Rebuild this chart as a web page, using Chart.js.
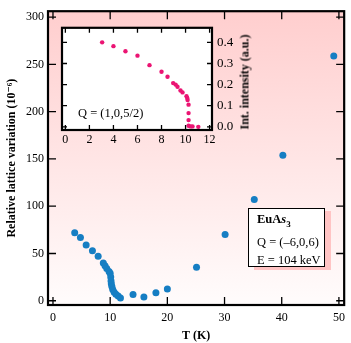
<!DOCTYPE html>
<html>
<head>
<meta charset="utf-8">
<script src="https://cdn.jsdelivr.net/npm/chart.js@4.4.1/dist/chart.umd.min.js"></script>
<style>
  body { margin: 0; background: #fff; }
  #wrap { position: relative; width: 351px; height: 343px; font-family: "Liberation Serif", "DejaVu Serif", serif; }
  #principal { position: absolute; left: 0; top: 0; }
  #inset { position: absolute; left: 55px; top: 15px; }
  .nota { position: absolute; font-size: 12.5px; color: #000; white-space: nowrap; }
  #caixa { left: 248px; top: 208px; width: 77px; height: 59px; border: 1.5px solid #000; background: #fff;
    box-shadow: 6px 3px 0 #ffc4c4; padding: 1px 0 0 8px; box-sizing: border-box; line-height: 18px; }
  #qinset { left: 78px; top: 105px; line-height: 16px; }
  #tituloInset { left: 245px; top: 82px; font-size: 12px; font-weight: bold; transform: translate(-50%, -50%) rotate(-90deg); }
</style>
</head>
<body>
<div id="wrap">
  <canvas id="principal" width="351" height="343"></canvas>
  <canvas id="inset" width="200" height="135"></canvas>
  <div class="nota" id="qinset">Q = (1,0,5/2)</div>
  <div class="nota" id="tituloInset">Int. intensity (a.u.)</div>
  <div class="nota" id="caixa"><b>EuA<i>s</i><sub style="font-size:9px">3</sub></b><br>Q = (–6,0,6)<br>E = 104 keV</div>
</div>
<script>
// dados do grafico principal: variacao relativa da rede vs temperatura
const temperatura = [3.8, 4.8, 5.8, 6.9, 7.9, 8.8, 9.1, 9.4, 9.8, 10.0, 10.1, 10.15, 10.2, 10.3, 10.45, 10.7, 11.0, 11.4, 11.8, 14.0, 15.9, 18.0, 20.0, 25.1, 30.1, 35.2, 40.2, 49.1]
const variacao = [72, 67, 59, 53, 47, 40, 37, 34, 31, 29, 25, 21, 18, 15, 12, 9, 7, 5, 3, 6.5, 4, 8.5, 12.5, 35.5, 70, 107, 154, 259]
const ticksT = [0, 10, 20, 30, 40, 50]
const ticksVariacao = [0, 50, 100, 150, 200, 250, 300]

// dados do inset: intensidade integrada vs temperatura
const temperaturaInset = [3.06, 4.0, 5.0, 6.0, 7.0, 8.0, 8.5, 8.97, 9.17, 9.33, 9.58, 9.75, 10.08, 10.14, 10.17, 10.25, 10.25, 10.25, 10.25, 10.42, 10.58, 11.06]
const intensidade = [0.40, 0.382, 0.358, 0.337, 0.292, 0.261, 0.237, 0.207, 0.20, 0.19, 0.172, 0.163, 0.145, 0.137, 0.127, 0.105, 0.065, 0.032, 0.005, 0.002, 0.002, 0.0]
const ticksTInset = [0, 2, 4, 6, 8, 10, 12]
const ticksIntensidade = [0, 0.1, 0.2, 0.3, 0.4]

const fonte = { family: '"Liberation Serif", "DejaVu Serif", serif', size: 12 }
const fonteTitulo = { family: '"Liberation Serif", "DejaVu Serif", serif', size: 12, weight: 'bold' }

// moldura preta com ticks para dentro
const moldura = (tamTick, fundo) => ({
	id: 'moldura',
	beforeDraw(chart) {
		const { ctx, chartArea: a } = chart
		ctx.save()
		if (fundo === 'rosa') {
			const g = ctx.createLinearGradient(0, a.top, 0, a.bottom)
			g.addColorStop(0, 'rgb(255,206,206)')
			g.addColorStop(1, 'rgb(255,252,252)')
			ctx.fillStyle = g
		} else {
			ctx.fillStyle = '#fff'
		}
		ctx.fillRect(a.left, a.top, a.right - a.left, a.bottom - a.top)
		ctx.restore()
	},
	afterDraw(chart) {
		const { ctx, chartArea: a, scales } = chart
		ctx.save()
		ctx.strokeStyle = '#000'
		ctx.lineWidth = 1.3
		ctx.beginPath()
		scales.x.ticks.forEach(t => {
			const px = scales.x.getPixelForValue(t.value)
			ctx.moveTo(px, a.bottom); ctx.lineTo(px, a.bottom - tamTick)
			ctx.moveTo(px, a.top); ctx.lineTo(px, a.top + tamTick)
		})
		scales.y.ticks.forEach(t => {
			const py = scales.y.getPixelForValue(t.value)
			ctx.moveTo(a.left, py); ctx.lineTo(a.left + tamTick, py)
			ctx.moveTo(a.right, py); ctx.lineTo(a.right - tamTick, py)
		})
		ctx.stroke()
		ctx.lineWidth = 2.2
		ctx.strokeRect(a.left, a.top, a.right - a.left, a.bottom - a.top)
		ctx.restore()
	}
})

new Chart(document.getElementById('principal'), {
	type: 'scatter',
	data: {
		datasets: [{
			data: temperatura.map((t, i) => ({ x: t, y: variacao[i] })),
			backgroundColor: '#167ec3',
			borderWidth: 0,
			pointRadius: 3.5
		}]
	},
	options: {
		responsive: false,
		animation: false,
		devicePixelRatio: 1,
		layout: { padding: { top: 8, right: 5, left: 0, bottom: 0 } },
		plugins: { legend: { display: false }, tooltip: { enabled: false } },
		scales: {
			x: {
				type: 'linear', min: -0.87, max: 50.92,
				afterBuildTicks: s => { s.ticks = ticksT.map(v => ({ value: v })) },
				afterFit: s => { s.height = 38 },
				grid: { display: false, drawTicks: false },
				border: { display: false },
				ticks: { font: fonte, color: '#000', padding: 6, maxRotation: 0 },
				title: { display: true, text: 'T (K)', font: fonteTitulo, color: '#000', padding: { top: 3, bottom: 0 } }
			},
			y: {
				type: 'linear', min: -4.5, max: 306.3,
				afterBuildTicks: s => { s.ticks = ticksVariacao.map(v => ({ value: v })) },
				afterFit: s => { s.width = 48 },
				grid: { display: false, drawTicks: false },
				border: { display: false },
				ticks: { font: fonte, color: '#000', padding: 4 },
				title: { display: true, text: 'Relative lattice variation (10⁻⁶)', font: fonteTitulo, color: '#000', padding: { top: 5, bottom: 0 } }
			}
		}
	},
	plugins: [moldura(8, 'rosa')]
})

new Chart(document.getElementById('inset'), {
	type: 'scatter',
	data: {
		datasets: [{
			data: temperaturaInset.map((t, i) => ({ x: t, y: intensidade[i] })),
			backgroundColor: '#eb1473',
			borderWidth: 0,
			pointRadius: 2.2
		}]
	},
	options: {
		responsive: false,
		animation: false,
		devicePixelRatio: 1,
		layout: { padding: { top: 7, left: 7, right: 0, bottom: 0 } },
		plugins: { legend: { display: false }, tooltip: { enabled: false } },
		scales: {
			x: {
				type: 'linear', min: -0.28, max: 12.2,
				afterBuildTicks: s => { s.ticks = ticksTInset.map(v => ({ value: v })) },
				afterFit: s => { s.height = 20 },
				grid: { display: false, drawTicks: false },
				border: { display: false },
				ticks: { font: fonte, color: '#000', padding: 3, maxRotation: 0 }
			},
			y: {
				type: 'linear', position: 'right', min: -0.015, max: 0.469,
				afterBuildTicks: s => { s.ticks = ticksIntensidade.map(v => ({ value: v })) },
				afterFit: s => { s.width = 43 },
				grid: { display: false, drawTicks: false },
				border: { display: false },
				ticks: { font: { ...fonte, size: 13 }, color: '#000', padding: 5, callback: v => v.toFixed(1) }
			}
		}
	},
	plugins: [moldura(5, 'branco')]
})
</script>
</body>
</html>
